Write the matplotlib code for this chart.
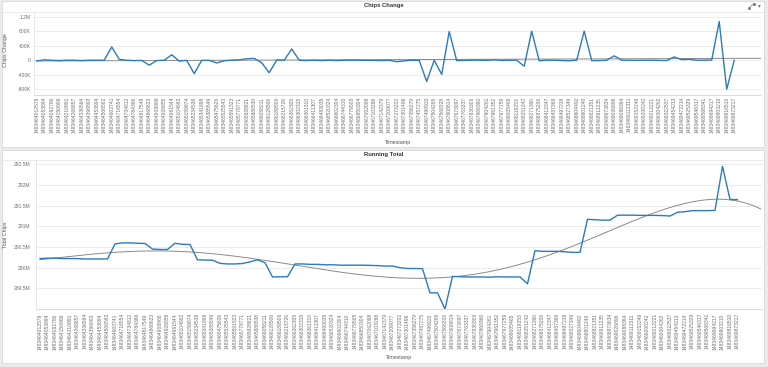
import numpy as np
import matplotlib
matplotlib.use('Agg')
import matplotlib.pyplot as plt
from matplotlib.patches import Rectangle
from matplotlib.lines import Line2D
from matplotlib.ticker import FuncFormatter

plt.rcParams['font.family'] = ['Liberation Sans', 'DejaVu Sans']

# Timestamps (ms) shown on the x axis of both charts.
timestamps = [
    '1483464012579', '1483464053894', '1483464092780', '1483464150969', '1483464210891',
    '1483464268857', '1483464336564', '1483464396893', '1483464453694', '1483464506582',
    '1483464603741', '1483464716554', '1483464734812', '1483464784366', '1483464817549',
    '1483464868623', '1483464908968', '1483464926855', '1483464961544', '1483465104682',
    '1483465159874', '1483465234538', '1483465341898', '1483465385549', '1483465475626',
    '1483465525543', '1483465591523', '1483465778771', '1483465828821', '1483465886538',
    '1483466058211', '1483466128506', '1483466189506', '1483466215726', '1483466262305',
    '1483466302315', '1483466361310', '1483466411307', '1483466483035', '1483466520324',
    '1483466602304', '1483466744310', '1483466779505', '1483466850304', '1483467062088',
    '1483467103288', '1483467142379', '1483467209077', '1483467273202', '1483467301496',
    '1483467356279', '1483467457275', '1483467496920', '1483467504285', '1483467568328',
    '1483467608814', '1483467673097', '1483467763337', '1483467830306', '1483467869360',
    '1483467904261', '1483467961352', '1483467977259', '1483468005465', '1483468119253',
    '1483468251242', '1483468271360', '1483468375206', '1483468412347', '1483468457369',
    '1483468497238', '1483468527349', '1483468604492', '1483468801240', '1483468821351',
    '1483468911235', '1483468973634', '1483469026896', '1483469088364', '1483469112311',
    '1483469152246', '1483469200242', '1483469212221', '1483469304262', '1483469322537',
    '1483469454213', '1483469472214', '1483469525329', '1483469546317', '1483469568341',
    '1483469694217', '1483469803210', '1483469816510', '1483469873217',
]

# Chips change per hand (thousands of chips).
chips_change_k = [
    -20, 10, 0, -10, 0, 0, -10, 0, 0, 0,
    365, 25, 0, -10, -5, -135, -10, 0, 150, -25,
    -5, -370, -5, -5, -75, -15, 0, 10, 40, 50,
    -70, -345, 5, 0, 310, 0, -10, 0, -10, 0,
    -10, 0, 0, 0, -5, -5, -10, 0, -40, -20,
    0, -5, -585, 0, -390, 790, -10, -5, 0, 0,
    -5, 10, -5, 0, 0, -165, 800, -15, 0, 0,
    -10, -15, 0, 800, -10, -10, 0, 120, 0, 0,
    -5, 0, 0, -5, -10, 90, 15, 25, 0, 0,
    5, 1065, -800, -5,
]

# Running total of chips (millions).
running_total_m = [
    290.22, 290.23, 290.23, 290.22, 290.22, 290.22, 290.21, 290.21, 290.21, 290.21,
    290.575, 290.60, 290.60, 290.59, 290.585, 290.45, 290.44, 290.44, 290.59, 290.565,
    290.56, 290.19, 290.185, 290.18, 290.105, 290.09, 290.09, 290.10, 290.14, 290.19,
    290.12, 289.775, 289.78, 289.78, 290.09, 290.09, 290.08, 290.08, 290.07, 290.07,
    290.06, 290.06, 290.06, 290.06, 290.055, 290.05, 290.04, 290.04, 290.00, 289.98,
    289.98, 289.975, 289.39, 289.39, 289.00, 289.79, 289.78, 289.775, 289.775, 289.775,
    289.77, 289.78, 289.775, 289.775, 289.775, 289.61, 290.41, 290.395, 290.395, 290.395,
    290.385, 290.37, 290.37, 291.17, 291.16, 291.15, 291.15, 291.27, 291.27, 291.27,
    291.265, 291.265, 291.265, 291.26, 291.25, 291.34, 291.355, 291.38, 291.38, 291.38,
    291.385, 292.45, 291.65, 291.645,
]

change_ticks = [-800, -400, 0, 400, 800, 1200]
total_ticks = [289.5, 290, 290.5, 291, 291.5, 292, 292.5]

W, H = 768, 367
BLUE = '#2b7bbd'
TREND = '#8a8a8a'
GRID = '#e9e9e9'
TICK_COLOR = '#707070'


def px_rect(left, top, right, bottom):
    return [left / W, 1 - bottom / H, (right - left) / W, (bottom - top) / H]


def fx(x):
    return x / W


def fy(y):
    return 1 - y / H


def fmt_change(v, pos):
    if v == 0:
        return '0'
    if abs(v) >= 1000:
        return f'{v / 1000:g}M'
    return f'{v:g}K'


def fmt_total(v, pos):
    return f'{v:g}M'


fig = plt.figure(figsize=(W / 100, H / 100), dpi=100, facecolor='#ebebeb')

# White panels with title bars, kept behind the axes.
for top, bottom in [(1, 147), (150, 363)]:
    fig.patches.append(Rectangle((fx(2), fy(bottom)), 762 / W, (bottom - top) / H,
                                 transform=fig.transFigure, facecolor='white',
                                 edgecolor='#d9d9d9', lw=0.6, zorder=-10))
for y in [12, 160]:
    fig.add_artist(Line2D([fx(2), fx(764)], [fy(y)] * 2, color='#e6e6e6', lw=0.6, zorder=-5))

fig.text(fx(384), fy(6), 'Chips Change', ha='center', va='center',
         fontsize=4.2, fontweight='bold', color='#333333')
fig.text(fx(384), fy(154.5), 'Running Total', ha='center', va='center',
         fontsize=4.2, fontweight='bold', color='#333333')

# Small expand icon and menu caret at the top right.
fig.add_artist(Line2D([fx(749), fx(753.5)], [fy(8.2), fy(3.8)], color='#777777', lw=0.5))
fig.add_artist(Line2D([fx(749), fx(753.5)], [fy(8.2), fy(3.8)], color='#777777', lw=0,
                      marker='s', markersize=1.0, markevery=[0, 1]))
fig.text(fx(759), fy(6), '\u25be', ha='center', va='center', fontsize=4,
         color='#777777', family='DejaVu Sans')

idx = np.arange(len(timestamps))

# Chips change chart.
ax1 = fig.add_axes(px_rect(33.7, 12.3, 761.2, 94.7))
ax1.patch.set_alpha(0)
ax1.plot(idx, chips_change_k, color=BLUE, lw=1.0, zorder=3)
c1 = np.polyfit(idx, chips_change_k, 1)
xt1 = np.linspace(0, 96.5, 200)
ax1.plot(xt1, np.polyval(c1, xt1), color=TREND, lw=0.7, zorder=2)
ax1.set_xlim(-0.4, 96.6)
ax1.set_ylim(-950, 1320)
ax1.set_yticks(change_ticks)
ax1.yaxis.set_major_formatter(FuncFormatter(fmt_change))

# Running total chart.
ax2 = fig.add_axes(px_rect(36.25, 160.2, 762.25, 309))
ax2.patch.set_alpha(0)
ax2.plot(idx, running_total_m, color=BLUE, lw=1.0, zorder=3)
c2 = np.polyfit(idx, running_total_m, 5)
xt2 = np.linspace(0, 96.1, 200)
ax2.plot(xt2, np.polyval(c2, xt2), color=TREND, lw=0.7, zorder=2)
ax2.set_xlim(-0.5, 96.3)
ax2.set_ylim(289.0, 292.6)
ax2.set_yticks(total_ticks)
ax2.yaxis.set_major_formatter(FuncFormatter(fmt_total))

for ax, ypad, xpad in [(ax1, 2.0, 1.5), (ax2, 4.0, 3.0)]:
    ax.set_xticks(idx)
    ax.set_xticklabels(timestamps, rotation=90, fontsize=3.6, color=TICK_COLOR)
    ax.tick_params(axis='x', length=0, pad=xpad)
    ax.tick_params(axis='y', length=0, pad=ypad, labelsize=3.6, labelcolor=TICK_COLOR)
    ax.grid(axis='y', color=GRID, lw=0.6)
    ax.set_axisbelow(True)
    for side in ['top', 'right']:
        ax.spines[side].set_visible(False)
    ax.spines['left'].set_color('#e3e3e3')
    ax.spines['bottom'].set_color('#d5d5d5')
    ax.spines['left'].set_linewidth(0.6)
    ax.spines['bottom'].set_linewidth(0.6)

fig.text(fx(397.5), fy(142.7), 'Timestamp', ha='center', va='center',
         fontsize=3.8, color='#555555')
fig.text(fx(399), fy(357.7), 'Timestamp', ha='center', va='center',
         fontsize=3.8, color='#555555')
fig.text(fx(6), fy(50), 'Chips Change', ha='center', va='center', rotation=90,
         fontsize=3.8, color='#555555')
fig.text(fx(6), fy(235), 'Total Chips', ha='center', va='center', rotation=90,
         fontsize=3.8, color='#555555')

fig.savefig('out.png', dpi=100, facecolor=fig.get_facecolor())
